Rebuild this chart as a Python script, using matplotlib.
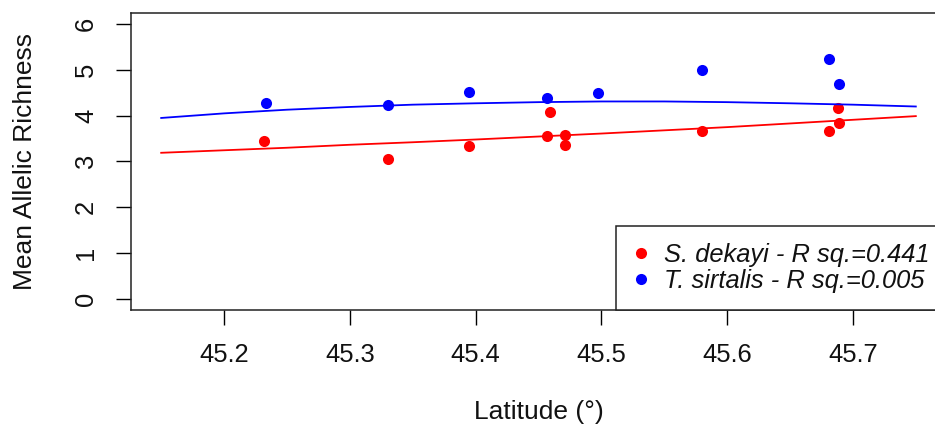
import numpy as np
import matplotlib
matplotlib.use('Agg')
import matplotlib.pyplot as plt

plt.rcParams['font.family'] = ['Liberation Sans', 'DejaVu Sans']

# site latitudes and mean allelic richness
lat_sd = [45.232, 45.330, 45.395, 45.457, 45.459, 45.471, 45.471, 45.580, 45.681, 45.688, 45.689]
ar_sd = [3.44, 3.05, 3.33, 3.55, 4.08, 3.57, 3.37, 3.66, 3.66, 4.17, 3.85]
lat_ts = [45.233, 45.330, 45.395, 45.457, 45.497, 45.580, 45.681, 45.689]
ar_ts = [4.28, 4.23, 4.52, 4.39, 4.50, 4.99, 5.24, 4.70]

# fitted curves
fit_x = [45.15, 45.20, 45.25, 45.30, 45.35, 45.40, 45.45, 45.50, 45.55, 45.60, 45.65, 45.70, 45.75]
fit_sd = [3.19, 3.245, 3.30, 3.365, 3.42, 3.48, 3.545, 3.61, 3.68, 3.75, 3.83, 3.91, 3.99]
fit_ts = [3.95, 4.05, 4.13, 4.19, 4.24, 4.27, 4.295, 4.31, 4.31, 4.295, 4.27, 4.24, 4.20]

xticks = [45.2, 45.3, 45.4, 45.5, 45.6, 45.7]
yticks = [0, 1, 2, 3, 4, 5, 6]
lab_sd = 'S. dekayi - R sq.=0.441'
lab_ts = 'T. sirtalis - R sq.=0.005'

fs = 18.4
fig = plt.figure(figsize=(9.35, 4.36), dpi=100)
ax = fig.add_axes([131/935, 126/436, 815/935, 297/436])

ax.plot(lat_sd, ar_sd, 'o', color='red', ms=8, mew=0, label=lab_sd)
ax.plot(lat_ts, ar_ts, 'o', color='blue', ms=8, mew=0, label=lab_ts)
ax.plot(fit_x, fit_sd, '-', color='red', lw=1.3)
ax.plot(fit_x, fit_ts, '-', color='blue', lw=1.3)

ax.set_xlim(45.126, 45.774)
ax.set_ylim(-0.24, 6.24)
ax.set_xticks(xticks)
ax.set_xticklabels([str(t) for t in xticks])
ax.set_yticks(yticks)
ax.set_yticklabels([str(t) for t in yticks])
ax.tick_params(axis='both', direction='out', length=10.8, width=1, color='black',
               labelsize=fs, labelcolor='#111111')
ax.tick_params(axis='x', pad=13)
ax.tick_params(axis='y', pad=13, labelrotation=90)
for lb in ax.get_yticklabels():
    lb.set_va('center')
for s in ax.spines.values():
    s.set_linewidth(1.1)
    s.set_color('#222222')

ax.set_xlabel('Latitude (°)', fontsize=19, color='#111111')
ax.set_ylabel('Mean Allelic Richness', fontsize=19, color='#111111')
ax.xaxis.label.set_va('center')
ax.yaxis.label.set_va('center')
ax.xaxis.set_label_coords(0.5, -0.343)
ax.yaxis.set_label_coords(-0.130, 0.5)

leg = ax.legend(loc='lower right', borderaxespad=0, fancybox=False, framealpha=1,
                edgecolor='#222222', prop={'style': 'italic', 'size': fs},
                borderpad=0.65, handlelength=0.7, handletextpad=0.53,
                labelspacing=0.09, markerscale=1.0)
leg.get_frame().set_linewidth(1.1)
for t in leg.get_texts():
    t.set_color('#111111')

fig.savefig('out.png', dpi=100)
